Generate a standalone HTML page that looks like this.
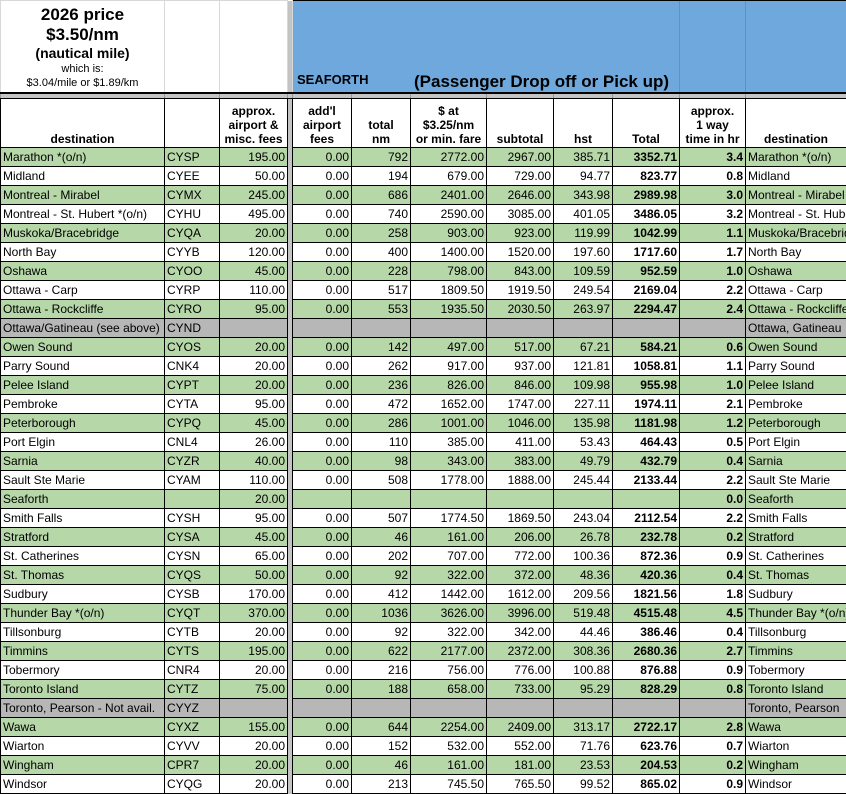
<!DOCTYPE html>
<html><head><meta charset="utf-8"><style>
body{margin:0;background:#fff;width:846px;height:793px;overflow:hidden;font-family:"Liberation Sans",Arial,sans-serif;font-size:12px;color:#000}
table{border-collapse:collapse;table-layout:fixed;width:846px;position:absolute;left:0;top:0}
td{border:1px solid #000;padding:0 2px;height:18px;line-height:17px;white-space:nowrap;overflow:hidden;text-align:right}
td.l{text-align:left}
td.b{font-weight:bold}
td.d{background:#c4c4c4;border-top:none;border-bottom:none;padding:0}
tr.g td{background:#b6d7a8}
tr.g td.d,tr.x td.d{background:#c4c4c4}
tr.x td{background:#b7b7b7}
tr.h td{height:47px;font-weight:bold;text-align:center;vertical-align:bottom;line-height:14px;padding-bottom:1px}
tr.sp td{height:4px;background:#c4c4c4;border-left:1px solid #999;border-right:1px solid #999;border-top:2px solid #000;padding:0}
tr.t td{height:89px;border-color:#d8d8d8;border-bottom:2px solid #000;vertical-align:bottom}
.blue{background:#6fa8dc!important;text-align:left!important;font-weight:bold;position:relative}
</style></head><body>
<table>
<colgroup><col style="width:164px"><col style="width:55px"><col style="width:68px"><col style="width:5px"><col style="width:59px"><col style="width:59px"><col style="width:76px"><col style="width:67px"><col style="width:59px"><col style="width:67px"><col style="width:66px"><col style="width:101px"></colgroup>
<tr class="t"><td style="text-align:center;line-height:15px;padding-bottom:2px"><div style="font-size:17px;font-weight:bold;line-height:20px">2026 price</div><div style="font-size:17px;font-weight:bold;line-height:20px">$3.50/nm</div><div style="font-size:14px;font-weight:bold;line-height:17px">(nautical mile)</div><div style="font-size:11px;line-height:14px">which is:</div><div style="font-size:11px;line-height:14px">$3.04/mile or $1.89/km</div></td><td></td><td></td><td class="d"></td>
<td class="blue" colspan="8" style="border-color:#000"><div style="position:absolute;left:4px;bottom:4px;font-size:13px">SEAFORTH</div><div style="position:absolute;left:121px;bottom:2px;font-size:17px">(Passenger Drop off or Pick up)</div><div style="position:absolute;left:386px;top:0;bottom:0;border-left:1px solid #5b93c6"></div><div style="position:absolute;left:452px;top:0;bottom:0;border-left:1px solid #5b93c6"></div></td></tr>
<tr class="sp"><td></td><td></td><td></td><td style="border-left:none;border-right:none"></td><td></td><td></td><td></td><td></td><td></td><td></td><td></td><td></td></tr>
<tr class="h"><td>destination</td><td></td><td>approx.<br>airport &amp;<br>misc. fees</td><td class="d"></td><td>add'l<br>airport<br>fees</td><td>total<br>nm</td><td>$ at<br>$3.25/nm<br>or min. fare</td><td>subtotal</td><td>hst</td><td>Total</td><td>approx.<br>1 way<br>time in hr</td><td>destination</td></tr>
<tr class="g"><td class="l">Marathon *(o/n)</td><td class="l">CYSP</td><td>195.00</td><td class="d"></td><td>0.00</td><td>792</td><td>2772.00</td><td>2967.00</td><td>385.71</td><td class="b">3352.71</td><td class="b">3.4</td><td class="l">Marathon *(o/n)</td></tr>
<tr><td class="l">Midland</td><td class="l">CYEE</td><td>50.00</td><td class="d"></td><td>0.00</td><td>194</td><td>679.00</td><td>729.00</td><td>94.77</td><td class="b">823.77</td><td class="b">0.8</td><td class="l">Midland</td></tr>
<tr class="g"><td class="l">Montreal - Mirabel</td><td class="l">CYMX</td><td>245.00</td><td class="d"></td><td>0.00</td><td>686</td><td>2401.00</td><td>2646.00</td><td>343.98</td><td class="b">2989.98</td><td class="b">3.0</td><td class="l">Montreal - Mirabel</td></tr>
<tr><td class="l">Montreal - St. Hubert *(o/n)</td><td class="l">CYHU</td><td>495.00</td><td class="d"></td><td>0.00</td><td>740</td><td>2590.00</td><td>3085.00</td><td>401.05</td><td class="b">3486.05</td><td class="b">3.2</td><td class="l">Montreal - St. Hubert</td></tr>
<tr class="g"><td class="l">Muskoka/Bracebridge</td><td class="l">CYQA</td><td>20.00</td><td class="d"></td><td>0.00</td><td>258</td><td>903.00</td><td>923.00</td><td>119.99</td><td class="b">1042.99</td><td class="b">1.1</td><td class="l">Muskoka/Bracebridge</td></tr>
<tr><td class="l">North Bay</td><td class="l">CYYB</td><td>120.00</td><td class="d"></td><td>0.00</td><td>400</td><td>1400.00</td><td>1520.00</td><td>197.60</td><td class="b">1717.60</td><td class="b">1.7</td><td class="l">North Bay</td></tr>
<tr class="g"><td class="l">Oshawa</td><td class="l">CYOO</td><td>45.00</td><td class="d"></td><td>0.00</td><td>228</td><td>798.00</td><td>843.00</td><td>109.59</td><td class="b">952.59</td><td class="b">1.0</td><td class="l">Oshawa</td></tr>
<tr><td class="l">Ottawa - Carp</td><td class="l">CYRP</td><td>110.00</td><td class="d"></td><td>0.00</td><td>517</td><td>1809.50</td><td>1919.50</td><td>249.54</td><td class="b">2169.04</td><td class="b">2.2</td><td class="l">Ottawa - Carp</td></tr>
<tr class="g"><td class="l">Ottawa - Rockcliffe</td><td class="l">CYRO</td><td>95.00</td><td class="d"></td><td>0.00</td><td>553</td><td>1935.50</td><td>2030.50</td><td>263.97</td><td class="b">2294.47</td><td class="b">2.4</td><td class="l">Ottawa - Rockcliffe</td></tr>
<tr class="x"><td class="l">Ottawa/Gatineau (see above)</td><td class="l">CYND</td><td></td><td class="d"></td><td></td><td></td><td></td><td></td><td></td><td></td><td></td><td class="l">Ottawa, Gatineau</td></tr>
<tr class="g"><td class="l">Owen Sound</td><td class="l">CYOS</td><td>20.00</td><td class="d"></td><td>0.00</td><td>142</td><td>497.00</td><td>517.00</td><td>67.21</td><td class="b">584.21</td><td class="b">0.6</td><td class="l">Owen Sound</td></tr>
<tr><td class="l">Parry Sound</td><td class="l">CNK4</td><td>20.00</td><td class="d"></td><td>0.00</td><td>262</td><td>917.00</td><td>937.00</td><td>121.81</td><td class="b">1058.81</td><td class="b">1.1</td><td class="l">Parry Sound</td></tr>
<tr class="g"><td class="l">Pelee Island</td><td class="l">CYPT</td><td>20.00</td><td class="d"></td><td>0.00</td><td>236</td><td>826.00</td><td>846.00</td><td>109.98</td><td class="b">955.98</td><td class="b">1.0</td><td class="l">Pelee Island</td></tr>
<tr><td class="l">Pembroke</td><td class="l">CYTA</td><td>95.00</td><td class="d"></td><td>0.00</td><td>472</td><td>1652.00</td><td>1747.00</td><td>227.11</td><td class="b">1974.11</td><td class="b">2.1</td><td class="l">Pembroke</td></tr>
<tr class="g"><td class="l">Peterborough</td><td class="l">CYPQ</td><td>45.00</td><td class="d"></td><td>0.00</td><td>286</td><td>1001.00</td><td>1046.00</td><td>135.98</td><td class="b">1181.98</td><td class="b">1.2</td><td class="l">Peterborough</td></tr>
<tr><td class="l">Port Elgin</td><td class="l">CNL4</td><td>26.00</td><td class="d"></td><td>0.00</td><td>110</td><td>385.00</td><td>411.00</td><td>53.43</td><td class="b">464.43</td><td class="b">0.5</td><td class="l">Port Elgin</td></tr>
<tr class="g"><td class="l">Sarnia</td><td class="l">CYZR</td><td>40.00</td><td class="d"></td><td>0.00</td><td>98</td><td>343.00</td><td>383.00</td><td>49.79</td><td class="b">432.79</td><td class="b">0.4</td><td class="l">Sarnia</td></tr>
<tr><td class="l">Sault Ste Marie</td><td class="l">CYAM</td><td>110.00</td><td class="d"></td><td>0.00</td><td>508</td><td>1778.00</td><td>1888.00</td><td>245.44</td><td class="b">2133.44</td><td class="b">2.2</td><td class="l">Sault Ste Marie</td></tr>
<tr class="g"><td class="l">Seaforth</td><td class="l"></td><td>20.00</td><td class="d"></td><td></td><td></td><td></td><td></td><td></td><td></td><td class="b">0.0</td><td class="l">Seaforth</td></tr>
<tr><td class="l">Smith Falls</td><td class="l">CYSH</td><td>95.00</td><td class="d"></td><td>0.00</td><td>507</td><td>1774.50</td><td>1869.50</td><td>243.04</td><td class="b">2112.54</td><td class="b">2.2</td><td class="l">Smith Falls</td></tr>
<tr class="g"><td class="l">Stratford</td><td class="l">CYSA</td><td>45.00</td><td class="d"></td><td>0.00</td><td>46</td><td>161.00</td><td>206.00</td><td>26.78</td><td class="b">232.78</td><td class="b">0.2</td><td class="l">Stratford</td></tr>
<tr><td class="l">St. Catherines</td><td class="l">CYSN</td><td>65.00</td><td class="d"></td><td>0.00</td><td>202</td><td>707.00</td><td>772.00</td><td>100.36</td><td class="b">872.36</td><td class="b">0.9</td><td class="l">St. Catherines</td></tr>
<tr class="g"><td class="l">St. Thomas</td><td class="l">CYQS</td><td>50.00</td><td class="d"></td><td>0.00</td><td>92</td><td>322.00</td><td>372.00</td><td>48.36</td><td class="b">420.36</td><td class="b">0.4</td><td class="l">St. Thomas</td></tr>
<tr><td class="l">Sudbury</td><td class="l">CYSB</td><td>170.00</td><td class="d"></td><td>0.00</td><td>412</td><td>1442.00</td><td>1612.00</td><td>209.56</td><td class="b">1821.56</td><td class="b">1.8</td><td class="l">Sudbury</td></tr>
<tr class="g"><td class="l">Thunder Bay *(o/n)</td><td class="l">CYQT</td><td>370.00</td><td class="d"></td><td>0.00</td><td>1036</td><td>3626.00</td><td>3996.00</td><td>519.48</td><td class="b">4515.48</td><td class="b">4.5</td><td class="l">Thunder Bay *(o/n)</td></tr>
<tr><td class="l">Tillsonburg</td><td class="l">CYTB</td><td>20.00</td><td class="d"></td><td>0.00</td><td>92</td><td>322.00</td><td>342.00</td><td>44.46</td><td class="b">386.46</td><td class="b">0.4</td><td class="l">Tillsonburg</td></tr>
<tr class="g"><td class="l">Timmins</td><td class="l">CYTS</td><td>195.00</td><td class="d"></td><td>0.00</td><td>622</td><td>2177.00</td><td>2372.00</td><td>308.36</td><td class="b">2680.36</td><td class="b">2.7</td><td class="l">Timmins</td></tr>
<tr><td class="l">Tobermory</td><td class="l">CNR4</td><td>20.00</td><td class="d"></td><td>0.00</td><td>216</td><td>756.00</td><td>776.00</td><td>100.88</td><td class="b">876.88</td><td class="b">0.9</td><td class="l">Tobermory</td></tr>
<tr class="g"><td class="l">Toronto Island</td><td class="l">CYTZ</td><td>75.00</td><td class="d"></td><td>0.00</td><td>188</td><td>658.00</td><td>733.00</td><td>95.29</td><td class="b">828.29</td><td class="b">0.8</td><td class="l">Toronto Island</td></tr>
<tr class="x"><td class="l">Toronto, Pearson - Not avail.</td><td class="l">CYYZ</td><td></td><td class="d"></td><td></td><td></td><td></td><td></td><td></td><td></td><td></td><td class="l">Toronto, Pearson</td></tr>
<tr class="g"><td class="l">Wawa</td><td class="l">CYXZ</td><td>155.00</td><td class="d"></td><td>0.00</td><td>644</td><td>2254.00</td><td>2409.00</td><td>313.17</td><td class="b">2722.17</td><td class="b">2.8</td><td class="l">Wawa</td></tr>
<tr><td class="l">Wiarton</td><td class="l">CYVV</td><td>20.00</td><td class="d"></td><td>0.00</td><td>152</td><td>532.00</td><td>552.00</td><td>71.76</td><td class="b">623.76</td><td class="b">0.7</td><td class="l">Wiarton</td></tr>
<tr class="g"><td class="l">Wingham</td><td class="l">CPR7</td><td>20.00</td><td class="d"></td><td>0.00</td><td>46</td><td>161.00</td><td>181.00</td><td>23.53</td><td class="b">204.53</td><td class="b">0.2</td><td class="l">Wingham</td></tr>
<tr><td class="l">Windsor</td><td class="l">CYQG</td><td>20.00</td><td class="d"></td><td>0.00</td><td>213</td><td>745.50</td><td>765.50</td><td>99.52</td><td class="b">865.02</td><td class="b">0.9</td><td class="l">Windsor</td></tr>
</table>
</body></html>
